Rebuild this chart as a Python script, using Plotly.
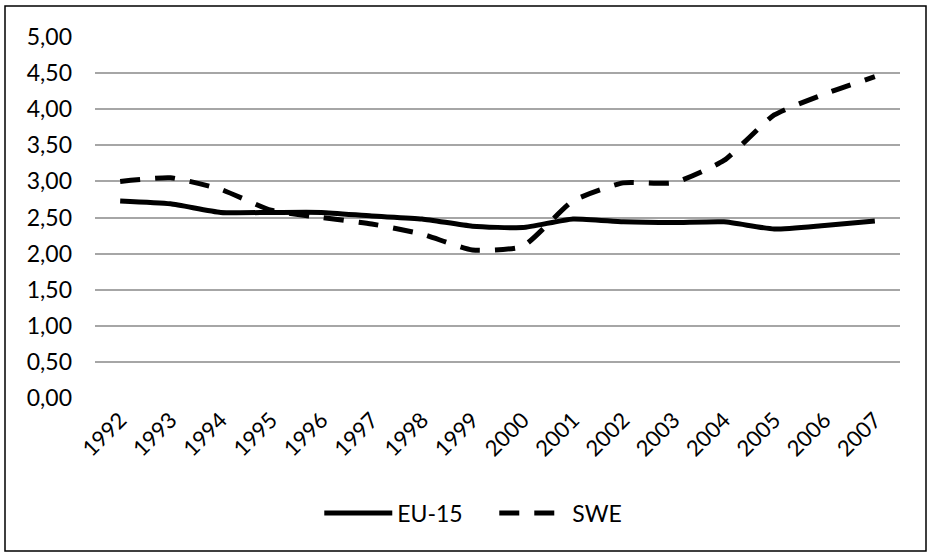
import plotly.graph_objects as go

years = ["1992", "1993", "1994", "1995", "1996", "1997", "1998", "1999",
         "2000", "2001", "2002", "2003", "2004", "2005", "2006", "2007"]
eu15 = [2.73, 2.69, 2.57, 2.57, 2.57, 2.52, 2.48, 2.38,
        2.36, 2.48, 2.44, 2.43, 2.44, 2.34, 2.39, 2.45]
swe = [3.00, 3.05, 2.89, 2.60, 2.50, 2.41, 2.27, 2.05,
       2.10, 2.73, 2.98, 2.98, 3.29, 3.92, 4.21, 4.45]
y_ticks = [0, 0.5, 1, 1.5, 2, 2.5, 3, 3.5, 4, 4.5, 5]

FONT = "Lato"

fig = go.Figure()
fig.add_trace(go.Scatter(x=years, y=eu15, name="EU-15", mode="lines",
                         line=dict(color="black", width=5, shape="spline", smoothing=0.5)))
fig.add_trace(go.Scatter(x=years, y=swe, name="SWE", mode="lines",
                         line=dict(color="black", width=5, dash="20px,15px",
                                   shape="spline", smoothing=0.5)))

L, R, T, B = 95, 31, 37, 158
W, H = 931, 556
pw, ph = W - L - R, H - T - B

def px_x(p):
    return (p - L) / pw

def px_y(p):
    return (H - B - p) / ph

fig.update_layout(
    width=W, height=H,
    margin=dict(l=L, r=R, t=T, b=B),
    paper_bgcolor="white", plot_bgcolor="white",
    separators=", ",
    font=dict(family=FONT, size=23, color="black"),
    showlegend=True,
    legend=dict(orientation="h", x=0.496, xanchor="center", y=px_y(513), yanchor="middle",
                font=dict(family=FONT, size=23, color="black"), itemwidth=68,
                entrywidth=92, entrywidthmode="pixels", tracegroupgap=0),
    xaxis=dict(type="category", range=[-0.5, 15.5], tickangle=-45,
               showgrid=False, showline=False, zeroline=False, ticks="",
               ticklabelstandoff=4,
               tickfont=dict(family=FONT, size=22, color="black")),
    yaxis=dict(range=[0, 5], tickvals=y_ticks, tickformat=".2f",
               showgrid=True, gridcolor="#a6a6a6", gridwidth=1.5,
               zeroline=False, showline=False, ticks="",
               ticklabelstandoff=22,
               tickfont=dict(family=FONT, size=23, color="black")),
    shapes=[dict(type="rect", xref="paper", yref="paper",
                 x0=px_x(5), x1=px_x(926), y0=px_y(551), y1=px_y(6),
                 line=dict(color="black", width=1.5), fillcolor="rgba(0,0,0,0)",
                 layer="below")],
)

fig.write_html("out.html", config={"displayModeBar": False},
               post_script="document.body.style.margin='0';")
